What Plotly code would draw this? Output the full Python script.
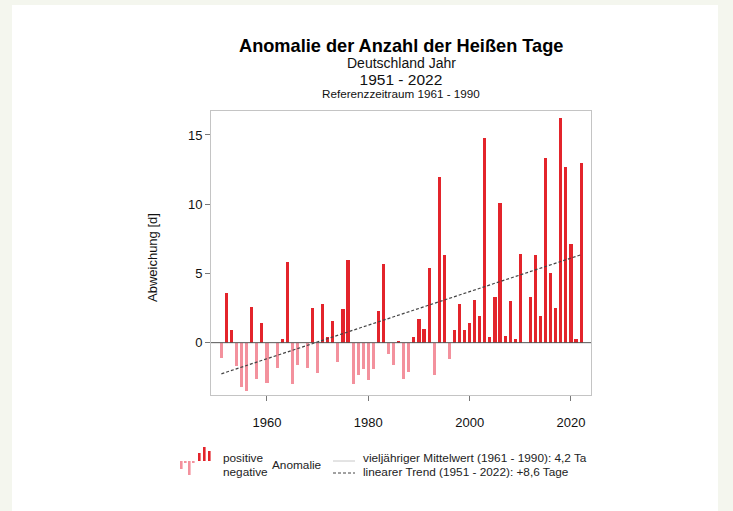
import plotly.graph_objects as go

# ---------------- data ----------------
years = list(range(1951, 2023))
anomaly = [
    -1.1, 3.6, 0.9, -1.7, -3.2, -3.5, 2.6, -2.6, 1.4, -2.9,      # 1951-1960
    0.0, -1.8, 0.3, 5.8, -3.0, -1.6, 0.0, -1.8, 2.5, -2.2,       # 1961-1970
    2.8, 0.4, 1.6, -1.4, 2.4, 6.0, -3.0, -2.3, -1.9, -2.7,       # 1971-1980
    -1.9, 2.3, 5.7, -0.8, -1.6, 0.1, -2.6, -2.1, 0.4, 1.7,       # 1981-1990
    1.0, 5.4, -2.3, 12.0, 6.3, -1.2, 0.9, 2.8, 0.9, 1.4,         # 1991-2000
    3.1, 1.9, 14.8, 0.4, 3.3, 10.1, 0.5, 3.0, 0.3, 6.4,          # 2001-2010
    0.0, 3.3, 6.3, 1.9, 13.3, 5.0, 2.5, 16.2, 12.7, 7.1,         # 2011-2020
    0.3, 13.0,                                                   # 2021-2022
]
trend_years = [1951, 2022]
trend_values = [-2.25, 6.35]
y_ticks = [0, 5, 10, 15]
x_ticks = [1960, 1980, 2000, 2020]

title_text = "Anomalie der Anzahl der Heißen Tage"
sub1 = "Deutschland Jahr"
sub2 = "1951 - 2022"
sub3 = "Referenzzeitraum 1961 - 1990"
ylab = "Abweichung [d]"
leg_pos = "positive"
leg_neg = "negative"
leg_anom = "Anomalie"
leg_mean = "vieljähriger Mittelwert (1961 - 1990): 4,2 Ta"
leg_trend = "linearer Trend (1951 - 2022): +8,6 Tage"

POS = "#e3242b"
NEG = "#f3919d"
FONT = "Liberation Sans, Arial, sans-serif"

W, H = 733, 511
L, R, T, B = 211, 591, 111, 395  # plot area in pixels


def px(x):
    return (x - L) / (R - L)


def py(y):
    return (B - y) / (B - T)


pos_x = [y for y, v in zip(years, anomaly) if v >= 0]
pos_v = [v for v in anomaly if v >= 0]
neg_x = [y for y, v in zip(years, anomaly) if v < 0]
neg_v = [v for v in anomaly if v < 0]

fig = go.Figure()
fig.add_trace(go.Bar(x=neg_x, y=neg_v, marker=dict(color=NEG, line=dict(width=0)),
                     width=0.62, showlegend=False))
fig.add_trace(go.Bar(x=pos_x, y=pos_v, marker=dict(color=POS, line=dict(width=0)),
                     width=0.62, showlegend=False))
fig.add_trace(go.Scatter(x=trend_years, y=trend_values, mode="lines",
                         line=dict(color="#444444", width=1.2, dash="3px,2px"),
                         showlegend=False))

shapes = []
# white card on page background
shapes.append(dict(type="rect", xref="paper", yref="paper", layer="below",
                   x0=px(12), x1=px(718), y0=py(512), y1=py(5),
                   fillcolor="white", line=dict(width=0)))
# zero line
shapes.append(dict(type="line", xref="paper", yref="y", x0=0, x1=1, y0=0, y1=0,
                   line=dict(color="#555555", width=1)))
# legend lines
shapes.append(dict(type="line", xref="paper", yref="paper",
                   x0=px(333), x1=px(355), y0=py(461), y1=py(461),
                   line=dict(color="#c8c8c8", width=1)))
shapes.append(dict(type="line", xref="paper", yref="paper",
                   x0=px(333), x1=px(355), y0=py(473), y1=py(473),
                   line=dict(color="#444444", width=1, dash="3px,2px")))
# legend bar icon (decoration)
icon = [(180, 461, 469, NEG), (184, 461, 463, NEG), (188, 461, 475, NEG),
        (192, 461, 463, NEG), (198, 453, 461, POS), (203, 447, 461, POS),
        (208, 451, 461, POS)]
for xx, y0, y1, c in icon:
    shapes.append(dict(type="rect", xref="paper", yref="paper",
                       x0=px(xx), x1=px(xx + 2.6), y0=py(y1), y1=py(y0),
                       fillcolor=c, line=dict(width=0)))

LEG = 11.8
ann = []
ann.append(dict(text="<b>" + title_text + "</b>", x=0.5, y=py(46), font=dict(size=18.2, color="black")))
ann.append(dict(text=sub1, x=0.5, y=py(63), font=dict(size=14, color="#111")))
ann.append(dict(text="<span style='font-size:15.5px'>" + sub2 + "</span><br>"
                     "<span style='font-size:11.7px'>" + sub3 + "</span>",
                x=0.5, y=py(69.5), yanchor="top", font=dict(size=10, color="#111")))
ann.append(dict(text=ylab, x=px(152), y=py(258), textangle=-90, font=dict(size=13, color="#111")))
ann.append(dict(text=leg_pos, x=px(222), y=py(458), xanchor="left", font=dict(size=LEG, color="#222")))
ann.append(dict(text=leg_neg, x=px(222), y=py(472), xanchor="left", font=dict(size=LEG, color="#222")))
ann.append(dict(text=leg_anom, x=px(271), y=py(465), xanchor="left", font=dict(size=LEG, color="#222")))
ann.append(dict(text=leg_mean, x=px(362), y=py(458), xanchor="left", font=dict(size=LEG, color="#222")))
ann.append(dict(text=leg_trend, x=px(362), y=py(472), xanchor="left", font=dict(size=LEG, color="#222")))
for a in ann:
    a.setdefault("xanchor", "center")
    a.setdefault("yanchor", "middle")
    a.update(xref="paper", yref="paper", showarrow=False, borderpad=0)

fig.update_layout(
    width=W, height=H,
    margin=dict(l=L, r=W - R, t=T, b=H - B, pad=0),
    paper_bgcolor="#f4f6ee", plot_bgcolor="white",
    font=dict(family=FONT, color="#111"),
    barmode="overlay", bargap=0,
    shapes=shapes, annotations=ann,
    xaxis=dict(range=[1948.95, 2023.95], tickvals=x_ticks, ticks="outside", ticklen=5,
               tickcolor="#777", showgrid=False, zeroline=False, showline=True,
               mirror=True, linecolor="#c4c4c4", linewidth=1,
               tickfont=dict(size=13, color="#111"), ticklabelstandoff=10),
    yaxis=dict(range=[-3.78, 16.73], tickvals=y_ticks, ticks="outside", ticklen=5,
               tickcolor="#777", showgrid=False, zeroline=False, showline=True,
               mirror=True, linecolor="#c4c4c4", linewidth=1,
               tickfont=dict(size=13, color="#111")),
)

fig.write_html("out.html", config={"displayModeBar": False},
               post_script="document.body.style.margin='0';document.body.style.overflow='hidden';")
